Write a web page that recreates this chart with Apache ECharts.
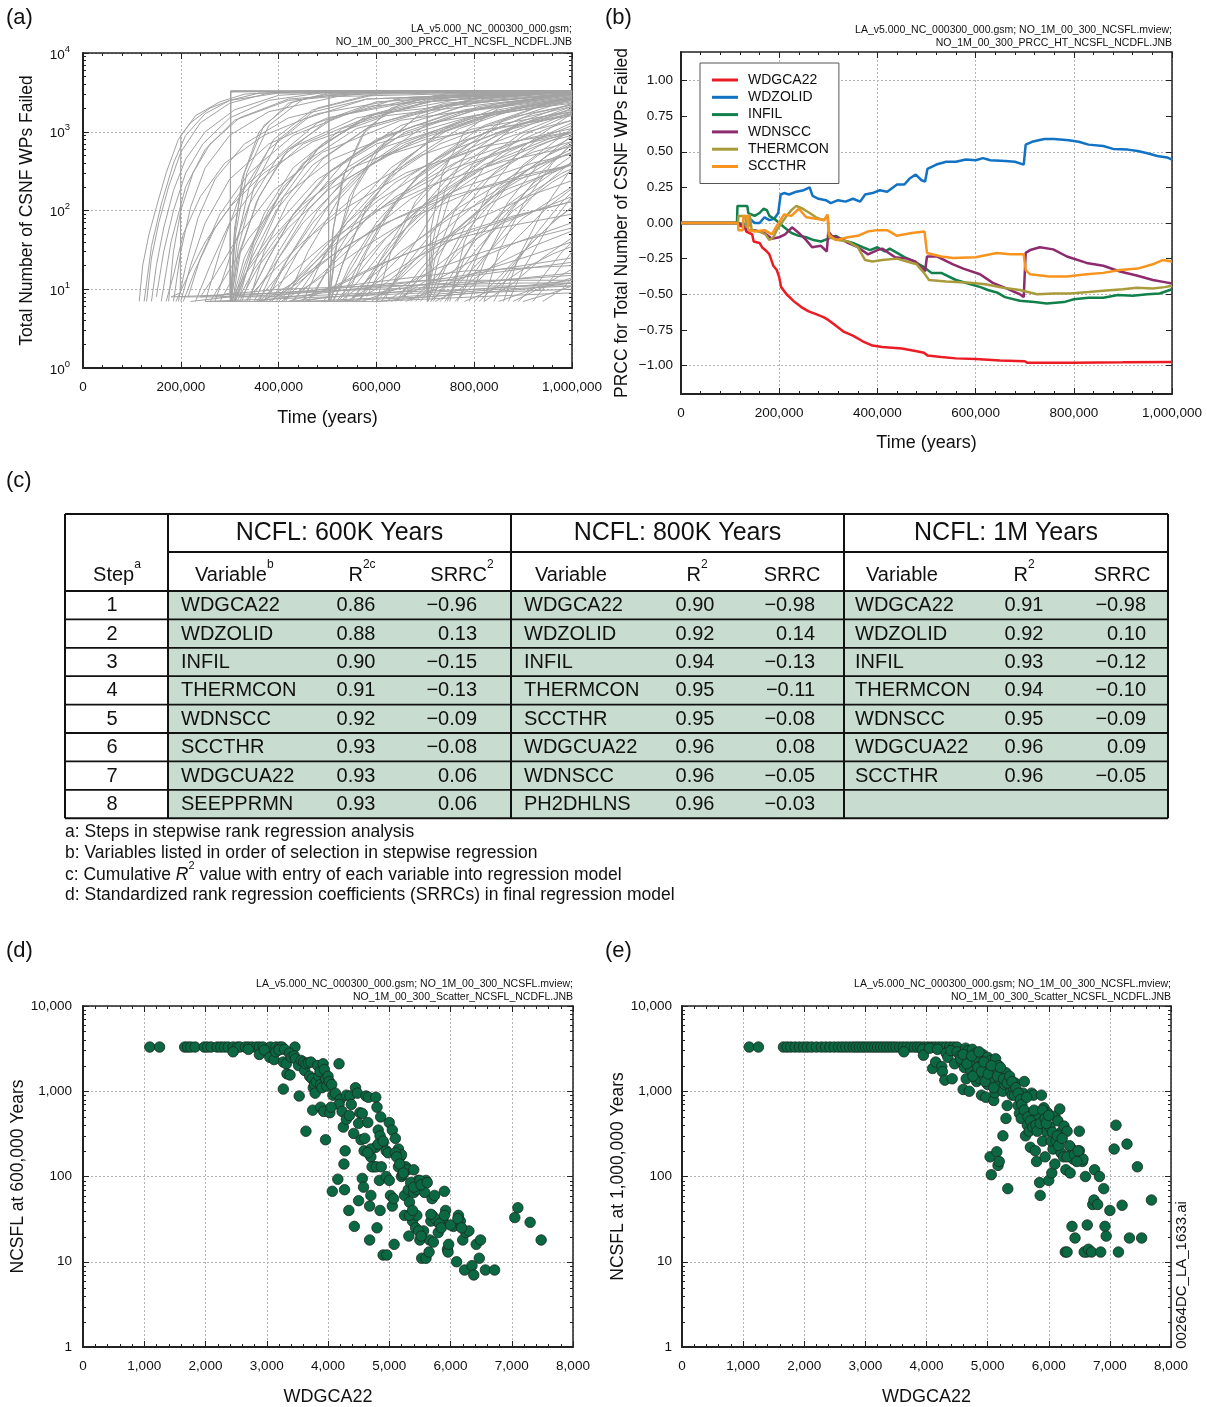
<!DOCTYPE html>
<html><head><meta charset="utf-8">
<script src="https://cdn.jsdelivr.net/npm/echarts@6/dist/echarts.min.js"></script>
<style>html,body{margin:0;padding:0;background:#fff}#c{width:1207px;height:1407px}</style>
</head><body><div id="c"></div>
<script>
// ---------------- DATA ----------------
// (a) realizations: flat [time (thousand years), WPs failed, ...]
const failCurves = [
 [115,7,122,20,135,50,150,110,170,300,195,800,230,1600,280,2400,330,3000,450,3300,1000,3300],
 [125,7,140,35,160,120,185,400,210,900,250,1700,300,2500,360,3100,1000,3300],
 [130,7,140,25,155,70,175,200,200,550,240,1300,300,2300,380,3100,500,3300,1000,3300],
 [140,7,150,20,165,60,185,180,210,450,250,1000,310,1900,400,2900,550,3300,1000,3300],
 [150,8,165,30,185,100,210,300,245,700,300,1500,380,2500,500,3200,1000,3300],
 [160,7,180,40,210,200,250,600,310,1400,420,2500,620,3200,1000,3300],
 [170,7,185,15,205,50,240,150,290,400,370,900,480,1700,650,2600,1000,3200],
 [175,7,185,30,200,100,225,300,260,700,320,1500,420,2600,600,3200,1000,3300],
 [180,8,199,9,200,900,220,1300,260,2000,300,2500,400,3100,1000,3300],
 [185,7,200,30,220,110,250,350,300,900,380,1800,520,2800,1000,3300],
 [195,7,210,20,235,80,270,250,330,700,420,1500,580,2600,1000,3300],
 [200,7,220,20,250,70,300,250,380,700,500,1500,700,2600,1000,3200],
 [190,7,215,15,250,40,300,110,370,300,470,750,620,1600,1000,3000],
 [205,7,230,18,270,60,330,200,420,600,560,1500,800,2800,1000,3200],
 [215,8,240,25,280,90,340,300,430,900,580,2100,1000,3300],
 [230,7,260,20,300,70,360,230,450,700,600,1700,1000,3100],
 [240,8,270,15,320,50,390,180,490,550,650,1400,1000,2900],
 [260,7,290,14,340,45,410,150,510,450,680,1200,1000,2600],
 [220,7,301,8,302,3300,1000,3300],
 [250,7,301,7,302,3250,1000,3300],
 [270,8,301,9,302,3200,600,3300,1000,3300],
 [280,7,301,12,302,3300,1000,3300],
 [250,7,280,30,320,150,380,600,460,1500,580,2600,1000,3300],
 [270,7,300,25,340,120,400,500,480,1300,600,2400,1000,3300],
 [302,7,310,60,330,300,370,1200,430,2400,520,3200,1000,3300],
 [302,7,308,40,325,250,360,1000,420,2300,500,3100,1000,3300],
 [302,8,312,50,335,300,380,1200,450,2600,560,3250,1000,3300],
 [302,7,315,40,340,200,390,800,470,1900,600,3000,1000,3300],
 [303,7,318,35,350,200,400,800,480,2000,600,3100,1000,3300],
 [302,7,320,30,360,150,420,600,520,1600,700,2800,1000,3300],
 [306,7,322,30,355,130,410,500,500,1400,650,2700,1000,3300],
 [305,7,330,25,380,100,450,400,560,1100,750,2200,1000,3000],
 [308,7,330,20,370,90,430,350,530,1100,700,2400,1000,3200],
 [310,7,340,20,400,70,480,250,600,700,800,1600,1000,2300],
 [312,7,345,25,395,100,470,380,580,1100,760,2300,1000,3000],
 [302,7,330,15,380,40,450,120,550,350,700,800,1000,1600],
 [315,7,350,18,410,60,500,220,620,650,800,1500,1000,2400],
 [310,7,350,40,410,200,490,700,600,1700,760,2800,1000,3300],
 [320,8,350,35,400,150,470,550,570,1400,720,2500,1000,3200],
 [320,7,360,20,420,60,500,180,620,500,800,1100,1000,1800],
 [325,7,360,30,410,150,480,600,580,1600,720,2700,1000,3300],
 [330,7,380,15,450,40,540,110,660,300,820,650,1000,1000],
 [335,7,375,22,430,90,510,330,620,900,780,1900,1000,2900],
 [340,8,380,25,430,90,500,300,600,800,750,1700,1000,2700],
 [340,7,370,30,420,130,490,450,590,1200,740,2300,1000,3100],
 [345,8,390,20,450,70,540,250,660,700,830,1600,1000,2500],
 [350,7,400,30,460,120,540,450,650,1200,800,2300,1000,3100],
 [355,7,410,18,480,60,570,180,690,500,850,1100,1000,1700],
 [360,7,420,15,500,40,600,100,720,220,860,420,1000,650],
 [360,7,400,25,460,100,540,350,650,900,800,1900,1000,2800],
 [365,7,430,12,520,30,640,80,780,200,920,400,1000,520],
 [370,7,410,20,470,70,550,250,650,700,800,1600,1000,2600],
 [375,7,420,25,480,100,560,380,660,1000,810,2100,1000,3000],
 [380,7,440,12,520,30,620,70,750,150,900,280,1000,380],
 [385,7,440,14,520,40,620,120,750,330,900,700,1000,950],
 [390,8,440,30,500,110,580,350,700,900,850,1800,1000,2500],
 [395,7,460,20,540,70,640,230,760,600,900,1300,1000,1800],
 [400,7,450,15,520,45,600,130,720,380,880,900,1000,1400],
 [405,7,470,12,560,30,670,80,800,180,1000,380],
 [410,7,470,18,540,50,640,150,760,400,900,800,1000,1100],
 [415,7,460,30,520,130,600,450,700,1200,850,2300,1000,3000],
 [420,7,500,10,600,20,700,35,850,60,1000,90],
 [425,7,490,16,570,45,670,140,790,380,930,800,1000,1000],
 [430,7,480,20,540,70,620,250,730,700,870,1500,1000,2200],
 [440,7,520,11,620,22,740,45,880,85,1000,130],
 [450,7,502,8,503,3000,600,3200,1000,3300],
 [480,7,502,7,503,2900,700,3200,1000,3300],
 [450,7,490,25,550,100,630,350,740,1000,880,2000,1000,2700],
 [460,7,510,22,580,80,670,280,780,750,920,1700,1000,2200],
 [470,8,520,30,580,120,660,400,770,1100,900,2100,1000,2700],
 [490,7,540,14,610,40,700,120,810,330,950,750,1000,900],
 [503,7,510,50,530,250,570,900,630,2000,720,2900,1000,3300],
 [503,8,512,60,535,300,580,1100,650,2300,750,3100,1000,3300],
 [503,7,515,30,545,150,600,600,680,1500,800,2600,1000,3200],
 [503,7,520,40,555,180,610,650,690,1700,820,2900,1000,3300],
 [505,7,530,20,570,80,630,300,720,900,850,1900,1000,2800],
 [506,7,535,25,580,110,650,400,740,1100,870,2300,1000,3000],
 [510,7,540,15,590,50,660,170,760,500,880,1100,1000,1700],
 [512,7,545,20,600,70,680,250,790,700,930,1500,1000,1900],
 [518,7,560,15,620,45,710,140,820,380,950,800,1000,1000],
 [520,7,560,12,620,35,700,100,800,260,920,550,1000,750],
 [525,7,575,12,650,30,750,80,870,190,1000,380],
 [530,8,570,25,620,90,690,300,790,800,900,1500,1000,2100],
 [535,7,580,30,640,130,720,450,820,1200,950,2300,1000,2700],
 [540,7,600,12,680,25,780,50,900,90,1000,130],
 [545,7,600,18,670,60,760,200,870,550,1000,1300],
 [550,7,600,20,660,60,740,200,840,550,950,1100,1000,1400],
 [555,7,620,12,700,30,800,75,920,160,1000,240],
 [560,7,610,15,680,40,770,110,880,280,1000,550],
 [565,7,610,25,670,100,750,350,850,950,1000,2100],
 [570,7,640,10,720,18,820,30,920,45,1000,60],
 [580,8,620,25,680,90,760,320,860,900,1000,2000],
 [590,7,650,14,730,40,830,120,950,300,1000,400],
 [600,7,650,15,720,45,810,130,910,330,1000,600],
 [600,7,630,30,680,130,750,450,850,1300,1000,2600],
 [610,7,660,20,730,70,820,240,930,650,1000,1000],
 [620,8,660,25,720,100,800,350,900,1000,1000,1800],
 [620,7,680,12,760,30,860,70,1000,150],
 [630,7,700,11,790,22,890,40,1000,70],
 [640,7,690,18,760,55,850,170,950,400,1000,550],
 [650,7,700,18,770,60,860,200,960,550,1000,750],
 [660,7,720,10,800,16,900,25,1000,40],
 [670,7,720,14,790,40,880,120,980,300,1000,340],
 [650,8,703,13,704,2500,800,3000,1000,3300],
 [680,7,703,10,704,2000,850,2900,1000,3200],
 [690,7,703,9,704,1500,820,2600,1000,3200],
 [704,7,712,60,735,300,780,1000,850,2000,950,2900,1000,3100],
 [704,7,715,40,740,180,790,600,860,1400,950,2300,1000,2700],
 [704,7,718,35,750,150,810,500,890,1300,1000,2300],
 [704,8,720,25,760,100,820,350,900,900,1000,1700],
 [705,7,735,18,780,60,850,200,930,500,1000,850],
 [706,7,728,25,770,90,840,300,930,800,1000,1200],
 [710,7,750,12,810,35,880,100,960,230,1000,320],
 [712,7,740,18,790,60,860,190,950,500,1000,700],
 [716,7,750,14,800,40,870,120,960,300,1000,400],
 [720,7,770,10,840,20,920,35,1000,55],
 [730,7,770,12,830,30,900,80,1000,200],
 [740,7,790,20,850,70,920,220,1000,500],
 [745,7,780,25,830,100,900,380,1000,1100],
 [750,7,780,40,830,180,900,650,1000,1700],
 [760,7,820,15,880,40,950,110,1000,190],
 [765,7,800,16,860,55,930,180,1000,420],
 [770,8,810,30,870,130,940,450,1000,900],
 [780,7,840,10,900,18,960,28,1000,35],
 [790,7,820,22,870,90,940,320,1000,700],
 [800,7,850,14,900,30,960,70,1000,110],
 [810,7,850,12,910,35,970,80,1000,110],
 [820,7,850,30,900,120,960,400,1000,700],
 [820,7,880,12,940,25,1000,45],
 [840,7,870,15,920,45,980,130,1000,170],
 [850,7,900,9,950,12,1000,18],
 [860,7,890,25,940,100,1000,350],
 [870,7,900,18,950,60,1000,150],
 [880,7,930,10,1000,14],
 [890,7,930,12,980,30,1000,40],
 [900,7,960,9,1000,11],
 [920,7,960,14,1000,30],
 [940,7,980,10,1000,14],
 [200,8,400,8,600,9,800,10,1000,12],
 [250,7,500,8,700,9,900,11,1000,13],
 [300,7,600,7,800,8,1000,9],
 [180,8,400,9,600,10,800,11,1000,11],
 [350,7,550,10,750,14,900,20,1000,25],
 [420,7,600,9,800,15,1000,22],
 [500,7,700,8,900,10,1000,12],
 [280,8,500,10,700,13,1000,13],
 [320,8,450,9,650,11,850,13,1000,15],
 [450,7,650,8,850,10,1000,11],
 [600,7,800,9,1000,10],
 [380,8,580,12,780,17,1000,20],
 [550,8,750,11,950,15,1000,16],
 [240,8,400,10,600,11,900,12,1000,12]
];

// (b) PRCC time histories: [time (thousand years), PRCC]
const wdgca22 = [[0,0],[116,0],[120,-0.02],[130,-0.03],[133,-0.06],[145,-0.08],[148,-0.13],[160,-0.14],[165,-0.17],[175,-0.2],[180,-0.22],[188,-0.3],[195,-0.33],[200,-0.38],[204,-0.45],[215,-0.5],[230,-0.55],[245,-0.59],[260,-0.62],[275,-0.64],[290,-0.66],[300,-0.68],[315,-0.72],[330,-0.76],[350,-0.79],[370,-0.83],[390,-0.86],[410,-0.87],[450,-0.88],[480,-0.9],[495,-0.91],[502,-0.93],[530,-0.94],[560,-0.95],[600,-0.955],[650,-0.965],[700,-0.97],[705,-0.98],[800,-0.98],[900,-0.978],[1000,-0.975]];
const wdzolid = [[0,0],[116,0],[120,0.01],[130,-0.01],[140,0.03],[150,0.0],[160,0.0],[170,0.04],[180,0.02],[190,0.03],[198,0.07],[203,0.2],[210,0.21],[220,0.2],[235,0.22],[250,0.23],[262,0.25],[268,0.19],[280,0.17],[295,0.16],[305,0.14],[320,0.16],[335,0.15],[350,0.17],[365,0.15],[375,0.2],[390,0.21],[405,0.23],[420,0.22],[440,0.27],[455,0.27],[465,0.31],[478,0.34],[490,0.3],[497,0.29],[502,0.38],[520,0.41],[540,0.43],[560,0.43],[580,0.445],[600,0.44],[615,0.455],[630,0.44],[660,0.435],[680,0.43],[698,0.41],[702,0.55],[715,0.57],[740,0.59],[760,0.59],[790,0.58],[810,0.57],[830,0.55],[860,0.54],[880,0.52],[910,0.515],[930,0.505],[950,0.49],[970,0.47],[990,0.46],[1000,0.445]];
const infil = [[0,0],[114,0],[115,0.12],[135,0.12],[137,0.07],[150,0.05],[160,0.07],[168,0.1],[175,0.09],[180,0.05],[190,0.03],[200,0.0],[210,-0.03],[225,-0.07],[240,-0.09],[255,-0.1],[270,-0.12],[285,-0.13],[300,-0.11],[315,-0.09],[330,-0.12],[350,-0.14],[370,-0.17],[385,-0.19],[400,-0.17],[415,-0.2],[425,-0.18],[440,-0.21],[455,-0.24],[475,-0.27],[495,-0.31],[510,-0.35],[530,-0.35],[560,-0.4],[590,-0.43],[610,-0.45],[625,-0.47],[645,-0.49],[660,-0.52],[690,-0.545],[720,-0.555],[745,-0.565],[780,-0.555],[800,-0.535],[830,-0.525],[860,-0.525],[890,-0.505],[920,-0.51],[950,-0.5],[975,-0.495],[1000,-0.465]];
const wdnscc = [[0,0],[116,0],[118,-0.01],[130,-0.03],[135,-0.05],[150,-0.05],[170,-0.07],[185,-0.11],[200,-0.1],[212,-0.08],[226,-0.03],[240,-0.07],[255,-0.12],[267,-0.17],[285,-0.16],[297,-0.2],[300,-0.06],[307,-0.09],[325,-0.11],[340,-0.14],[360,-0.17],[381,-0.22],[400,-0.19],[410,-0.18],[436,-0.24],[460,-0.25],[477,-0.27],[497,-0.34],[501,-0.235],[521,-0.235],[554,-0.29],[575,-0.32],[609,-0.36],[635,-0.42],[664,-0.46],[690,-0.5],[698,-0.52],[702,-0.21],[711,-0.19],[731,-0.17],[758,-0.185],[786,-0.235],[826,-0.28],[860,-0.3],[894,-0.34],[930,-0.37],[961,-0.4],[985,-0.415],[1000,-0.425]];
const thermcon = [[0,0],[116,0],[117,0.05],[131,0.05],[133,-0.03],[138,-0.02],[140,0.06],[144,-0.05],[160,-0.06],[172,-0.08],[180,-0.12],[188,-0.1],[195,-0.05],[205,0.0],[215,0.05],[225,0.09],[235,0.12],[248,0.1],[262,0.07],[275,0.04],[290,0.02],[299,0.05],[302,-0.1],[320,-0.12],[340,-0.13],[360,-0.17],[375,-0.26],[390,-0.27],[410,-0.26],[440,-0.25],[460,-0.27],[480,-0.29],[495,-0.35],[505,-0.4],[540,-0.41],[589,-0.42],[620,-0.43],[656,-0.455],[690,-0.47],[725,-0.5],[760,-0.495],[792,-0.495],[830,-0.485],[860,-0.475],[900,-0.465],[928,-0.455],[961,-0.46],[985,-0.45],[1000,-0.44]];
const sccthr = [[0,0],[116,0],[117,-0.05],[126,-0.05],[127,0.05],[136,0.05],[137,-0.05],[150,-0.06],[170,-0.05],[185,-0.08],[195,-0.02],[210,0.06],[225,0.05],[240,0.1],[255,0.04],[275,0.03],[292,0.02],[298,0.06],[301,-0.08],[315,-0.12],[340,-0.1],[360,-0.09],[380,-0.06],[400,-0.05],[420,-0.05],[440,-0.09],[470,-0.07],[496,-0.06],[501,-0.21],[530,-0.235],[554,-0.245],[600,-0.24],[643,-0.21],[670,-0.22],[698,-0.22],[702,-0.33],[711,-0.36],[750,-0.375],[786,-0.375],[826,-0.36],[860,-0.35],[894,-0.33],[930,-0.32],[961,-0.29],[981,-0.26],[1000,-0.27]];
const prccNames = ['WDGCA22','WDZOLID','INFIL','WDNSCC','THERMCON','SCCTHR'];
const prccColors = ['#ec1c24','#1272c4','#11804a','#8e2a6e','#a99b3c','#f7941d'];
const prccData = [wdgca22, wdzolid, infil, wdnscc, thermcon, sccthr];

// (c) table
const groupTitles = ['NCFL: 600K Years','NCFL: 800K Years','NCFL: 1M Years'];
const colHeads = [
  [['Variable','b'],['R','2c'],['SRRC','2']],
  [['Variable',''],['R','2'],['SRRC','']],
  [['Variable',''],['R','2'],['SRRC','']]
];
const tableSteps = [1,2,3,4,5,6,7,8];
const vars600 = ['WDGCA22','WDZOLID','INFIL','THERMCON','WDNSCC','SCCTHR','WDGCUA22','SEEPPRMN'];
const r2_600 = [0.86,0.88,0.90,0.91,0.92,0.93,0.93,0.93];
const srrc600 = [-0.96,0.13,-0.15,-0.13,-0.09,-0.08,0.06,0.06];
const vars800 = ['WDGCA22','WDZOLID','INFIL','THERMCON','SCCTHR','WDGCUA22','WDNSCC','PH2DHLNS'];
const r2_800 = [0.90,0.92,0.94,0.95,0.95,0.96,0.96,0.96];
const srrc800 = [-0.98,0.14,-0.13,-0.11,-0.08,0.08,-0.05,-0.03];
const vars1M = ['WDGCA22','WDZOLID','INFIL','THERMCON','WDNSCC','WDGCUA22','SCCTHR'];
const r2_1M = [0.91,0.92,0.93,0.94,0.95,0.96,0.96];
const srrc1M = [-0.98,0.10,-0.12,-0.10,-0.09,0.09,-0.05];
const footnotes = [
  ['a: Steps in stepwise rank regression analysis'],
  ['b: Variables listed in order of selection in stepwise regression'],
  ['c: Cumulative ','R','2',' value with entry of each variable into regression model'],
  ['d: Standardized rank regression coefficients (SRRCs) in final regression model']
];

// (d) WDGCA22 vs NCSFL at 600,000 yr
const scatter600 = [[1090,3300],[1250,3300],[1660,3300],[1710,3300],[1760,3300],[1830,3300],[1980,3300],[2030,3300],[2090,3300],[2190,3300],[2250,3300],[2310,3300],[2370,3300],[2450,3300],[2520,3300],[2560,3300],[2650,3300],[2700,3300],[2760,3300],[2830,3300],[2880,3300],[2940,3300],[3060,3300],[3150,3300],[3210,3300],[3250,3300],[3460,3300],
[2450,2900],[2700,3100],[2880,2700],[2960,3050],[3050,2500],[3120,2350],[3150,2900],[3200,3050],[3290,3100],[3270,2200],[3320,2100],[3370,2800],[3400,2500],[3450,2600],[3470,2400],[3520,2000],[3330,1600],[3380,1550],[3270,1060],[3530,880],[3560,2300],[3600,2200],[3620,1750],[3640,2100],[3680,2150],[3700,1500],[3720,2200],[3740,1400],[3760,1100],[3780,1200],[3790,950],[3810,1300],[3830,2000],[3850,1500],[3870,1700],[3880,1200],[3900,1100],[3920,2100],[3940,1800],[3960,1400],[3980,1150],[4000,1500],[4020,1300],[4060,1200],[4080,900],[4120,950],[4180,2100],[4200,800],[4180,700],[4230,580],[3750,600],[3640,340],[3960,270],[3880,650],[3930,580],[4030,560],[4050,650],[4250,380],[4300,470],[4300,900],[4350,520],[4360,880],[4380,700],[4420,320],[4450,1100],[4480,950],[4500,420],[4520,560],[4560,550],[4540,270],[4590,200],[4650,430],[4620,880],[4700,170],[4660,850],[4780,850],[4800,650],[4820,350],[4850,300],[4860,500],[4900,250],[4950,200],[5000,430],[5050,350],[5100,280],[5150,210],[5180,170],[5200,180],[4780,220],[4700,210],[4750,130],[4600,280],[4650,190],[4820,240],[4900,260],[4980,190],[5150,130],[5200,100],[5270,130],[5300,120],[5220,105],
[4280,200],[4260,140],[4160,93],[4070,67],[4270,70],[4340,40],[4430,26],[4560,95],[4500,52],[4580,75],[4680,45],[4700,60],[4720,130],[4790,130],[4800,25],[4840,90],[4850,40],[4870,130],[4680,18],[4900,12],[4960,12],[4950,100],[5000,90],[5020,60],[5050,45],[5070,55],[5080,16],[5250,60],[5310,70],[5250,35],[5330,50],[5320,20],[5380,30],[5400,120],[5400,65],[5430,25],[5450,35],[5470,90],[5450,70],[5500,18],[5530,11],[5560,23],[5600,11],[5600,90],[5580,65],[5650,13],[5660,18],[5700,35],[5700,55],[5720,17],[5740,60],[5780,30],[5800,22],[5880,30],[5900,67],[5920,40],[5950,14],[5960,13],[5970,16],[6050,26],[6100,10],[6130,35],[6160,30],[6200,18],[6230,8],[6250,22],[6300,23],[6350,9],[6380,7],[6420,16],[6470,11],[6490,18],[6570,8],[6720,8],[7050,33],[7100,43],[7300,29],[7480,18],
[5100,190],[5120,170],[5170,140],[5230,110],[5350,85],[5400,75],[5500,90],[5520,80],[5620,85],[5680,30],[5750,32],[5820,28],[5850,25],[5900,35],[6000,27],[6120,32],[6180,25],[5330,35],[5380,40],[5480,23],[5520,20],[5680,36]];

// (e) WDGCA22 vs NCSFL at 1,000,000 yr
const scatter1M = [[1100,3300],[1250,3300],[1660,3300],[1720,3300],[1780,3300],[1850,3300],[1920,3300],[1990,3300],[2050,3300],[2120,3300],[2200,3300],[2280,3300],[2350,3300],[2420,3300],[2490,3300],[2560,3300],[2620,3300],[2680,3300],[2740,3300],[2800,3300],[2850,3300],[2900,3300],[2950,3300],[3000,3300],[3050,3300],[3100,3300],[3150,3300],[3200,3300],[3250,3300],[3300,3300],[3350,3300],[3400,3300],[3450,3300],[3500,3300],[3560,3300],[3620,3300],[3680,3300],[3740,3300],[3800,3300],[3850,3300],[3900,3300],[3960,3300],[4020,3300],[4080,3300],[4140,3300],[4200,3300],[4260,3300],[4320,3300],[4380,3300],[4440,3300],[4500,3300],
[3630,2900],[3930,3100],[3950,2650],[4050,3200],[4100,1850],[4150,2200],[4180,3100],[4250,1950],[4260,1700],[4300,1350],[4320,2800],[4350,2500],[4400,3000],[4420,1400],[4460,2100],[4500,2900],[4550,2600],[4580,2200],[4600,1050],[4620,1900],[4640,3200],[4650,1400],[4680,3000],[4700,1000],[4700,2500],[4720,1800],[4750,3100],[4780,2200],[4800,1600],[4800,2800],[4820,1300],[4850,2400],[4870,1400],[4880,2000],[4900,900],[4920,2700],[4950,1500],[4970,850],[5000,2500],[5000,1200],[5020,1800],[5050,2300],[5080,1400],[5100,780],[5120,960],[5130,2400],[5150,1700],[5180,2000],[5200,1300],[5230,1600],[5250,1000],[5280,1200],[5300,1650],[5320,680],[5300,480],[5250,300],[5350,1200],[5380,1000],[5400,900],[5420,1100],[5450,1250],[5480,1000],[5500,680],[5520,550],[5550,480],[5580,950],[5600,1300],[5620,300],[5650,400],[5680,340],[5700,220],[5720,950],[5750,900],[5780,200],[5800,150],[5820,530],[5840,360],[5850,85],[5860,60],[5880,900],[5900,260],[5920,640],[5940,170],[5960,340],[5980,560],[6000,90],[6020,380],[6050,110],[6070,210],[6100,510],[6100,140],[6150,450],[6180,620],[6200,330],[6200,190],[6250,390],[6280,120],[6300,340],[6350,110],[6380,210],[6400,160],[6380,26],[6430,19],[6500,340],[6500,200],[6550,150],[6560,160],[6600,100],[6630,27],[6620,13],[6580,13],[6650,14],[6700,13],[6720,47],[6740,53],[6750,120],[6800,47],[6830,100],[6850,13],[6900,72],[6920,26],[6940,20],[7000,40],[7100,400],[7070,210],[7140,13],[7200,46],[7280,240],[7320,19],[7450,130],[7520,19],[7680,53],[6270,13],[6300,13],[5040,170],[5060,105],[5150,195],[5170,135],[5190,150],[5330,72],
[4560,2400],[4600,2700],[4660,2100],[4740,2600],[4760,1500],[4840,1900],[4860,2900],[4900,1700],[4940,2200],[4960,1300],[5010,1600],[5060,2000],[5100,1100],[5160,1500],[5210,1900],[5260,1400],[5320,1250],[5360,1500],[5400,1300],[5440,900],[5460,1100],[5500,950],[5540,800],[5560,700],[5600,600],[5640,850],[5660,500],[5700,450],[5740,380],[5760,600],[5790,400],[5810,340],[5860,420],[5900,600],[5940,480],[5960,420],[6000,520],[6040,260],[6060,330],[6120,260],[6140,300],[6160,230],[6220,280],[6240,170],[6300,170],[6340,230],[6420,180],[6460,150],[6480,200]];

// ---------------- STYLE / LAYOUT ----------------
const FONT = '"Liberation Sans", Arial, Helvetica, sans-serif';
const INK = '#111';
const AXC = '#222';
const GRIDC = '#b4b4b4';
const GREEN = '#c8ddd0';
const comma = v => String(Math.round(v)).replace(/\B(?=(\d{3})+(?!\d))/g, ',');
const tickStyle = {color: AXC, width: 1};
const gridLineStyle = {color: GRIDC, type: [2, 2], width: 1};

const GA = {left: 83, top: 53, width: 489, height: 315};
const GB = {left: 681, top: 52, width: 491, height: 342};
const GD = {left: 83, top: 1006, width: 490, height: 342};
const GE = {left: 682, top: 1006, width: 489, height: 342};
const GBi = {left: 681, top: 80.5, width: 491, height: 285};
const grids = [GA, GB, GD, GE, GA, GD, GE, GBi, GBi].map(g => Object.assign({show: false, containLabel: false}, g));

function xAxisPair(gi, min, max, interval, name, nameGap) {
  const base = {gridIndex: gi, type: 'value', min, max, interval};
  return [
    Object.assign({}, base, {
      position: 'bottom',
      axisLine: {show: true, onZero: false, lineStyle: {color: AXC, width: 2}},
      axisTick: {show: true, inside: true, length: 6, lineStyle: tickStyle},
      minorTick: {show: true, splitNumber: 5, length: 3, lineStyle: tickStyle},
      axisLabel: {show: true, formatter: comma, fontSize: 13.5, color: INK, fontFamily: FONT, margin: 12},
      splitLine: {show: true, lineStyle: gridLineStyle},
      name, nameLocation: 'middle', nameGap,
      nameTextStyle: {fontSize: 18, color: INK, fontFamily: FONT}
    }),
    Object.assign({}, base, {
      position: 'top',
      axisLine: {show: true, onZero: false, lineStyle: {color: AXC, width: 1.5}},
      axisTick: {show: true, inside: true, length: 6, lineStyle: tickStyle},
      minorTick: {show: true, splitNumber: 5, length: 3, lineStyle: tickStyle},
      axisLabel: {show: false}, splitLine: {show: false}
    })
  ];
}
function yLogPair(gi, fmt, rich, margin, name, nameGap) {
  const base = {gridIndex: gi, type: 'log', logBase: 10, min: 1, max: 10000};
  return [
    Object.assign({}, base, {
      position: 'left',
      axisLine: {show: true, onZero: false, lineStyle: {color: AXC, width: 2}},
      axisTick: {show: true, inside: true, length: 6, lineStyle: tickStyle},
      axisLabel: {show: true, formatter: fmt, rich: rich || undefined, fontSize: 13.5, color: INK, fontFamily: FONT, margin},
      splitLine: {show: true, lineStyle: gridLineStyle},
      name, nameLocation: 'middle', nameGap,
      nameTextStyle: {fontSize: 17.5, color: INK, fontFamily: FONT}
    }),
    Object.assign({}, base, {
      position: 'right',
      axisLine: {show: true, onZero: false, lineStyle: {color: AXC, width: 1.5}},
      axisTick: {show: true, inside: true, length: 6, lineStyle: tickStyle},
      axisLabel: {show: false}, splitLine: {show: false}
    })
  ];
}
const minorLogTicks = [];
for (let d = 0; d < 4; d++) for (let k = 2; k < 10; k++) minorLogTicks.push(Math.log10(k * Math.pow(10, d)));
function yMinorPair(gi) {
  const mk = pos => ({gridIndex: gi, type: 'value', min: 0, max: 4, position: pos,
    axisLine: {show: false}, axisLabel: {show: false}, splitLine: {show: false},
    axisTick: {show: true, inside: true, length: 3, lineStyle: tickStyle, customValues: minorLogTicks}});
  return [mk('left'), mk('right')];
}
const hiddenX = gi => ({gridIndex: gi, type: 'value', min: 0, max: 1, show: false});

const aRich = {
  b: {fontSize: 13.5, fontFamily: FONT, color: INK, lineHeight: 18, verticalAlign: 'bottom'},
  s: {fontSize: 9.5, fontFamily: FONT, color: INK, verticalAlign: 'top'}
};
const aFmt = v => '{b|10}{s|' + Math.round(Math.log10(v)) + '}';
const prccFmt = v => (v < 0 ? '\u2212' : '') + Math.abs(v).toFixed(2);

const xAxes = [].concat(
  xAxisPair(0, 0, 1000000, 200000, 'Time (years)', 41),
  xAxisPair(1, 0, 1000000, 200000, 'Time (years)', 40),
  xAxisPair(2, 0, 8000, 1000, 'WDGCA22', 41),
  xAxisPair(3, 0, 8000, 1000, 'WDGCA22', 41),
  [hiddenX(4), hiddenX(5), hiddenX(6), hiddenX(7), hiddenX(8)]
);
const yAxes = [].concat(
  yLogPair(0, aFmt, aRich, 13, 'Total Number of CSNF WPs Failed', 47),
  [
    {gridIndex: 1, type: 'value', min: -1.2, max: 1.2, position: 'left',
     axisLine: {show: true, onZero: false, lineStyle: {color: AXC, width: 2}},
     axisTick: {show: false}, axisLabel: {show: false}, splitLine: {show: false},
     name: 'PRCC for Total Number of CSNF WPs Failed', nameLocation: 'middle', nameGap: 50,
     nameTextStyle: {fontSize: 17.5, color: INK, fontFamily: FONT}},
    {gridIndex: 1, type: 'value', min: -1.2, max: 1.2, position: 'right',
     axisLine: {show: true, onZero: false, lineStyle: {color: AXC, width: 1.5}},
     axisTick: {show: false}, axisLabel: {show: false}, splitLine: {show: false}}
  ],
  yLogPair(2, comma, null, 11, 'NCSFL at 600,000 Years', 54),
  yLogPair(3, comma, null, 10, 'NCSFL at 1,000,000 Years', 55),
  yMinorPair(4), yMinorPair(5), yMinorPair(6),
  [
    {gridIndex: 7, type: 'value', min: -1, max: 1, interval: 0.25, position: 'left',
     axisLine: {show: false}, splitLine: {show: false},
     axisTick: {show: true, inside: true, length: 6, lineStyle: tickStyle},
     axisLabel: {show: true, formatter: prccFmt, fontSize: 13.5, color: INK, fontFamily: FONT, margin: 8}},
    {gridIndex: 7, type: 'value', min: -1, max: 1, interval: 0.25, position: 'right',
     axisLine: {show: false}, splitLine: {show: false}, axisLabel: {show: false},
     axisTick: {show: true, inside: true, length: 6, lineStyle: tickStyle}},
    {gridIndex: 8, type: 'value', min: -1, max: 1, interval: 0.5, position: 'left',
     axisLine: {show: false}, axisTick: {show: false}, axisLabel: {show: false},
     splitLine: {show: true, lineStyle: gridLineStyle}}
  ]
);

// ---------------- SERIES ----------------
const series = [];
failCurves.forEach(c => {
  const pts = [];
  for (let i = 0; i < c.length; i += 2) pts.push([c[i] * 1000, c[i + 1]]);
  series.push({type: 'line', xAxisIndex: 0, yAxisIndex: 0, data: pts, symbol: 'none', showSymbol: false,
    silent: true, lineStyle: {color: '#a2a2a2', width: 1}, z: 2});
});
prccData.forEach((arr, i) => {
  series.push({type: 'line', name: prccNames[i], xAxisIndex: 2, yAxisIndex: 2,
    data: arr.map(p => [p[0] * 1000, p[1]]), symbol: 'none', showSymbol: false,
    color: prccColors[i], lineStyle: {color: prccColors[i], width: 2.5}, z: 3});
});
const dotStyle = {color: '#0a6842', borderColor: '#1c2a22', borderWidth: 0.8, opacity: 1};
series.push({type: 'scatter', xAxisIndex: 4, yAxisIndex: 4, data: scatter600, symbolSize: 10.5, itemStyle: dotStyle, z: 3});
series.push({type: 'scatter', xAxisIndex: 6, yAxisIndex: 6, data: scatter1M, symbolSize: 10.5, itemStyle: dotStyle, z: 3});

// ---------------- GRAPHIC (labels, table) ----------------
const G = [];
function T(x, y, text, o) {
  const st = Object.assign({text, fill: INK, fontFamily: FONT, fontSize: 20,
    align: 'left', verticalAlign: 'middle', textAlign: 'left', textVerticalAlign: 'middle'}, o || {});
  if (o && o.align) st.textAlign = o.align;
  if (o && o.verticalAlign) st.textVerticalAlign = o.verticalAlign;
  G.push({type: 'text', x, y, rotation: (o && o.rot) || 0, silent: true, z: 20, style: st});
}
function L(x1, y1, x2, y2, w) {
  G.push({type: 'line', silent: true, z: 19, shape: {x1, y1, x2, y2}, style: {stroke: '#111', lineWidth: w || 1.8}});
}
// panel labels
T(6, 18, '(a)', {fontSize: 22});
T(605, 18, '(b)', {fontSize: 22});
T(6, 481, '(c)', {fontSize: 22});
T(6, 951, '(d)', {fontSize: 22});
T(605, 951, '(e)', {fontSize: 22});
// source notes
const SRC = {fontSize: 10.5, align: 'right'};
T(572, 29, 'LA_v5.000_NC_000300_000.gsm;', SRC);
T(572, 42, 'NO_1M_00_300_PRCC_HT_NCSFL_NCDFL.JNB', SRC);
T(1172, 30, 'LA_v5.000_NC_000300_000.gsm; NO_1M_00_300_NCSFL.mview;', SRC);
T(1172, 43.5, 'NO_1M_00_300_PRCC_HT_NCSFL_NCDFL.JNB', SRC);
T(573, 984, 'LA_v5.000_NC_000300_000.gsm; NO_1M_00_300_NCSFL.mview;', SRC);
T(573, 997, 'NO_1M_00_300_Scatter_NCSFL_NCDFL.JNB', SRC);
T(1171, 984, 'LA_v5.000_NC_000300_000.gsm; NO_1M_00_300_NCSFL.mview;', SRC);
T(1171, 997, 'NO_1M_00_300_Scatter_NCSFL_NCDFL.JNB', SRC);
T(1182, 1275, '00264DC_LA_1633.ai', {fontSize: 15, align: 'center', rot: Math.PI / 2});

// table
const cols = [65, 168, 511, 844, 1168];
const rowTop = 514, rowH1 = 552, rowH2 = 591, dataH = 28.4;
const nRows = tableSteps.length;
const rowLines = [];
for (let i = 0; i <= nRows; i++) rowLines.push(rowH2 + i * dataH);
const tBottom = rowLines[nRows];
G.push({type: 'rect', silent: true, z: 18, shape: {x: cols[1], y: rowH2, width: cols[4] - cols[1], height: tBottom - rowH2}, style: {fill: GREEN}});
L(cols[0], rowTop, cols[4], rowTop, 2);
L(cols[1], rowH1, cols[4], rowH1, 2);
rowLines.forEach((y, i) => L(cols[0], y, cols[4], y, (i === 0 || i === nRows) ? 2 : 1.8));
cols.forEach(x => L(x, rowTop, x, tBottom, 2));

const supRich = (size) => ({
  n: {fontSize: size, fontFamily: FONT, fill: INK, color: INK, lineHeight: size + 6, verticalAlign: 'bottom'},
  s: {fontSize: Math.round(size * 0.6), fontFamily: FONT, fill: INK, color: INK, verticalAlign: 'top'},
  i: {fontSize: size, fontFamily: FONT, fill: INK, color: INK, fontStyle: 'italic', lineHeight: size + 6, verticalAlign: 'bottom'}
});
function supText(x, y, base, sup, align, size) {
  const txt = '{n|' + base + '}' + (sup ? '{s|' + sup + '}' : '');
  T(x, y, txt, {align: align, rich: supRich(size)});
}
groupTitles.forEach((t, g) => T((cols[g + 1] + cols[g + 2]) / 2, 533, t, {fontSize: 25, align: 'center'}));
supText(117, 572, 'Step', 'a', 'center', 20);
const hdrVarX = [195, 535, 866], hdrR2X = [362, 697, 1024], hdrSrrcX = [462, 792, 1122];
colHeads.forEach((h, g) => {
  supText(hdrVarX[g], 572, h[0][0], h[0][1], 'left', 20);
  supText(hdrR2X[g], 572, h[1][0], h[1][1], 'center', 20);
  supText(hdrSrrcX[g], 572, h[2][0], h[2][1], 'center', 20);
});
const fmtS = v => (v < 0 ? '\u2212' : '') + Math.abs(v).toFixed(2);
const varX = [181, 524, 855], r2X = [356, 695, 1024], srrcX = [477, 815, 1146];
const tVars = [vars600, vars800, vars1M], tR2 = [r2_600, r2_800, r2_1M], tS = [srrc600, srrc800, srrc1M];
tableSteps.forEach((s, i) => {
  const yc = rowH2 + (i + 0.5) * dataH + 0.5;
  T(112, yc, String(s), {align: 'center'});
  for (let g = 0; g < 3; g++) {
    if (i < tVars[g].length) {
      T(varX[g], yc, tVars[g][i]);
      T(r2X[g], yc, tR2[g][i].toFixed(2), {align: 'center'});
      T(srrcX[g], yc, fmtS(tS[g][i]), {align: 'right'});
    }
  }
});
footnotes.forEach((f, k) => {
  const y = 832 + k * 21.2;
  if (f.length === 1) {
    T(65, y, f[0], {fontSize: 17.5});
  } else {
    T(65, y - 2, '{n|' + f[0] + '}{i|' + f[1] + '}{s|' + f[2] + '}{n|' + f[3] + '}', {rich: supRich(17.5)});
  }
});

// ---------------- OPTION ----------------
const option = {
  animation: false,
  backgroundColor: '#fff',
  textStyle: {fontFamily: FONT},
  grid: grids,
  xAxis: xAxes,
  yAxis: yAxes,
  legend: {
    show: true, data: prccNames, left: 700, top: 63, orient: 'vertical',
    icon: 'rect', itemWidth: 26, itemHeight: 3, itemGap: 1.3,
    padding: [9, 10, 9, 12], backgroundColor: '#fff', borderColor: '#555', borderWidth: 1,
    selectedMode: false,
    textStyle: {fontSize: 14, color: INK, fontFamily: FONT, lineHeight: 16, padding: [0, 0, 0, 5]}
  },
  series: series,
  graphic: {elements: G}
};
const chart = echarts.init(document.getElementById('c'), null, {renderer: 'canvas'});
chart.setOption(option);
</script></body></html>
